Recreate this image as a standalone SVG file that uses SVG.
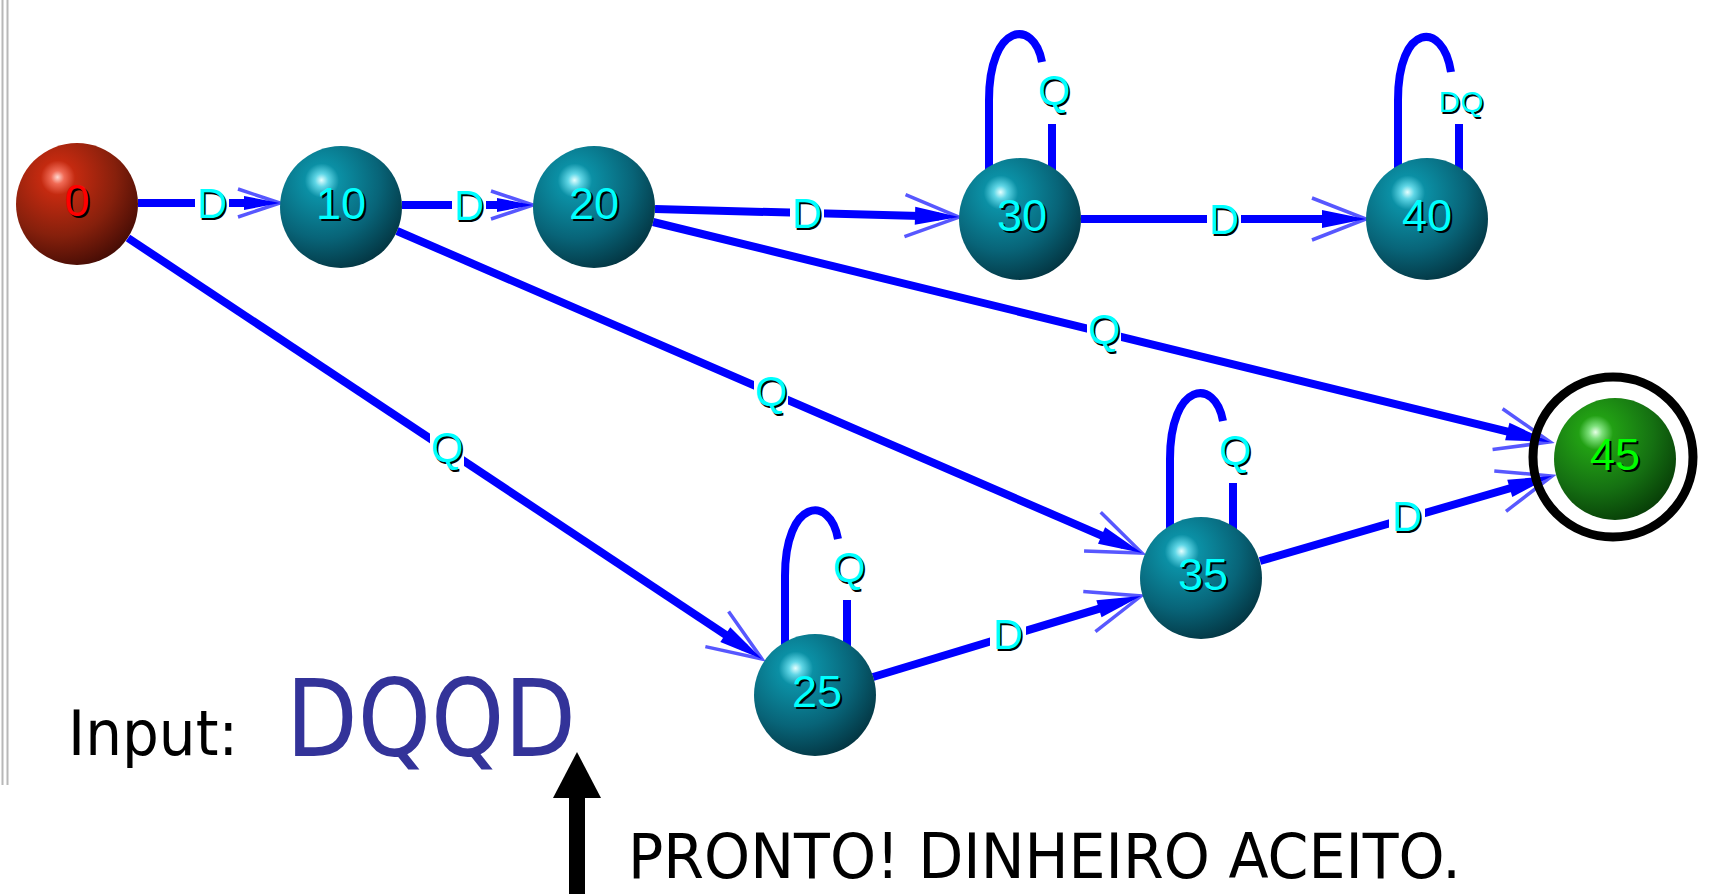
<svg xmlns="http://www.w3.org/2000/svg" width="1710" height="894" viewBox="0 0 1710 894">
<style>
.edge{stroke:#0000ff;stroke-width:8;fill:none;}
.loop{stroke:#0000ff;stroke-width:8;fill:none;stroke-linecap:butt;}
.lb text{font-family:"Liberation Sans",Arial,sans-serif;font-size:42px;text-anchor:middle;}
.lb .sh{fill:#000000;}
.lb .fg{fill:#00ffff;}
.lb rect{fill:#ffffff;}
.small text{font-size:30px;}
.nl{font-family:"Liberation Sans",Arial,sans-serif;font-size:45px;text-anchor:middle;}
.nl.sh{fill:#000000;}
.cy{fill:#00ffff;}
.rd{fill:#ff0000;}
.gr{fill:#00ff00;}
.big{font-family:"DejaVu Sans",Verdana,sans-serif;}
</style>
<defs>
<radialGradient id="gTeal" cx="0.36" cy="0.3" r="0.78" fx="0.34" fy="0.28">
<stop offset="0" stop-color="#e6ffff"/>
<stop offset="0.07" stop-color="#5fd6e6"/>
<stop offset="0.18" stop-color="#0b90a5"/>
<stop offset="0.6" stop-color="#086478"/>
<stop offset="1" stop-color="#03303c"/>
</radialGradient>
<radialGradient id="gRed" cx="0.36" cy="0.3" r="0.78" fx="0.34" fy="0.28">
<stop offset="0" stop-color="#ffd8d0"/>
<stop offset="0.07" stop-color="#f06a55"/>
<stop offset="0.18" stop-color="#c42a10"/>
<stop offset="0.6" stop-color="#86200c"/>
<stop offset="1" stop-color="#3e0a04"/>
</radialGradient>
<radialGradient id="gGreen" cx="0.36" cy="0.3" r="0.78" fx="0.34" fy="0.28">
<stop offset="0" stop-color="#e6ffe6"/>
<stop offset="0.07" stop-color="#7ce07a"/>
<stop offset="0.18" stop-color="#22a014"/>
<stop offset="0.6" stop-color="#157012"/>
<stop offset="1" stop-color="#063806"/>
</radialGradient>
<marker id="arrL" markerUnits="userSpaceOnUse" markerWidth="120" markerHeight="120" refX="0" refY="0" orient="auto" overflow="visible">
<path d="M-34,-21 L20,0 L-34,21" fill="none" stroke="#3a3aff" stroke-width="3.5" opacity="0.85"/>
<polygon points="20,0 -24,-9 -24,9" fill="#0000ff"/>
</marker>
<marker id="arrS" markerUnits="userSpaceOnUse" markerWidth="120" markerHeight="120" refX="0" refY="0" orient="auto" overflow="visible">
<path d="M-22,-14 L20,0 L-22,14" fill="none" stroke="#3a3aff" stroke-width="3.5" opacity="0.85"/>
<polygon points="20,0 -16,-7 -16,7" fill="#0000ff"/>
</marker>
</defs>
<rect x="0" y="0" width="1710" height="894" fill="#ffffff"/>
<g id="frame">
<line x1="2.5" y1="0" x2="2.5" y2="785" stroke="#b8b8b8" stroke-width="2"/>
<line x1="7.5" y1="0" x2="7.5" y2="785" stroke="#b8b8b8" stroke-width="2"/>
</g>
<g id="connectors">
<line class="edge" x1="138" y1="203" x2="260" y2="203" marker-end="url(#arrS)"/>
<line class="edge" x1="402" y1="205" x2="513" y2="205" marker-end="url(#arrS)"/>
<line class="edge" x1="655" y1="209" x2="939" y2="216.5" marker-end="url(#arrL)"/>
<line class="edge" x1="1081" y1="219" x2="1346" y2="219" marker-end="url(#arrL)"/>
<line class="edge" x1="653" y1="222" x2="1530.6" y2="437.2" marker-end="url(#arrL)"/>
<line class="edge" x1="397" y1="231" x2="1123.6" y2="545.1" marker-end="url(#arrL)"/>
<line class="edge" x1="128" y1="238" x2="745.3" y2="647.9" marker-end="url(#arrL)"/>
<line class="edge" x1="873" y1="677" x2="1121.9" y2="601.8" marker-end="url(#arrL)"/>
<line class="edge" x1="1260" y1="561" x2="1532.8" y2="481.6" marker-end="url(#arrL)"/>
<path class="loop" d="M989,175 L989,100 C989,23 1034,18 1042,62"/>
<path class="loop" d="M1052,124 L1052,175"/>
<path class="loop" d="M1398,175 L1398,100 C1398,23 1443,20 1451,72"/>
<path class="loop" d="M1459,124 L1459,175"/>
<path class="loop" d="M1170,535 L1170,459 C1170,382 1215,377 1223,421"/>
<path class="loop" d="M1233,483 L1233,535"/>
<path class="loop" d="M785,652 L785,576 C785,499 830,494 838,539"/>
<path class="loop" d="M847,600 L847,652"/>
<g class="lb" transform="translate(212,203)"><rect x="-17" y="-19" width="34" height="38"/><text class="sh" x="1.5" y="16.5">D</text><text class="fg" x="0" y="15">D</text></g>
<g class="lb" transform="translate(469,205)"><rect x="-17" y="-19" width="34" height="38"/><text class="sh" x="1.5" y="16.5">D</text><text class="fg" x="0" y="15">D</text></g>
<g class="lb" transform="translate(807,213)"><rect x="-17" y="-19" width="34" height="38"/><text class="sh" x="1.5" y="16.5">D</text><text class="fg" x="0" y="15">D</text></g>
<g class="lb" transform="translate(1224,219)"><rect x="-17" y="-19" width="34" height="38"/><text class="sh" x="1.5" y="16.5">D</text><text class="fg" x="0" y="15">D</text></g>
<g class="lb" transform="translate(1104,329)"><rect x="-17" y="-20" width="34" height="40"/><text class="sh" x="1.5" y="16.5">Q</text><text class="fg" x="0" y="15">Q</text></g>
<g class="lb" transform="translate(771,391)"><rect x="-17" y="-20" width="34" height="40"/><text class="sh" x="1.5" y="16.5">Q</text><text class="fg" x="0" y="15">Q</text></g>
<g class="lb" transform="translate(447,447)"><rect x="-17" y="-20" width="34" height="40"/><text class="sh" x="1.5" y="16.5">Q</text><text class="fg" x="0" y="15">Q</text></g>
<g class="lb" transform="translate(1008,634)"><rect x="-18" y="-20" width="36" height="40"/><text class="sh" x="1.5" y="16.5">D</text><text class="fg" x="0" y="15">D</text></g>
<g class="lb" transform="translate(1407,516)"><rect x="-18" y="-20" width="36" height="40"/><text class="sh" x="1.5" y="16.5">D</text><text class="fg" x="0" y="15">D</text></g>
<g class="lb" transform="translate(1054,90)"><text class="sh" x="1.5" y="16.5">Q</text><text class="fg" x="0" y="15">Q</text></g>
<g class="lb small" transform="translate(1461,101)"><text class="sh" x="1.5" y="12.5">DQ</text><text class="fg" x="0" y="11">DQ</text></g>
<g class="lb" transform="translate(1235,450)"><text class="sh" x="1.5" y="16.5">Q</text><text class="fg" x="0" y="15">Q</text></g>
<g class="lb" transform="translate(849,567)"><text class="sh" x="1.5" y="16.5">Q</text><text class="fg" x="0" y="15">Q</text></g>
</g>
<g id="node-0"><circle cx="77" cy="204" r="61" fill="url(#gRed)"/><text class="nl sh" x="79" y="218">0</text><text class="nl rd" x="77" y="216">0</text></g>
<g id="node-10"><circle cx="341" cy="207" r="61" fill="url(#gTeal)"/><text class="nl sh" x="343" y="221">10</text><text class="nl cy" x="341" y="219">10</text></g>
<g id="node-20"><circle cx="594" cy="207" r="61" fill="url(#gTeal)"/><text class="nl sh" x="596" y="221">20</text><text class="nl cy" x="594" y="219">20</text></g>
<g id="node-30"><circle cx="1020" cy="219" r="61" fill="url(#gTeal)"/><text class="nl sh" x="1024" y="233">30</text><text class="nl cy" x="1022" y="231">30</text></g>
<g id="node-40"><circle cx="1427" cy="219" r="61" fill="url(#gTeal)"/><text class="nl sh" x="1429" y="233">40</text><text class="nl cy" x="1427" y="231">40</text></g>
<g id="node-35"><circle cx="1201" cy="578" r="61" fill="url(#gTeal)"/><text class="nl sh" x="1205" y="592">35</text><text class="nl cy" x="1203" y="590">35</text></g>
<g id="node-25"><circle cx="815" cy="695" r="61" fill="url(#gTeal)"/><text class="nl sh" x="819" y="709">25</text><text class="nl cy" x="817" y="707">25</text></g>
<g id="node-45"><circle cx="1613" cy="457" r="80" fill="none" stroke="#000000" stroke-width="9"/><circle cx="1615" cy="459" r="61" fill="url(#gGreen)"/><text class="nl sh" x="1617" y="472">45</text><text class="nl gr" x="1615" y="470">45</text></g>
<g id="input">
<text class="big" x="68" y="755" font-size="62" textLength="170" lengthAdjust="spacingAndGlyphs" fill="#000000">Input:</text>
<text class="big" x="286" y="756" font-size="107" textLength="290" lengthAdjust="spacingAndGlyphs" fill="#333399">DQQD</text>
</g>
<g id="pointer">
<rect x="569" y="795" width="16" height="99" fill="#000000"/>
<polygon points="577,752 553,798 601,798" fill="#000000"/>
</g>
<text class="big" x="628" y="878" font-size="62" textLength="833" lengthAdjust="spacingAndGlyphs" fill="#000000">PRONTO! DINHEIRO ACEITO.</text>
</svg>
